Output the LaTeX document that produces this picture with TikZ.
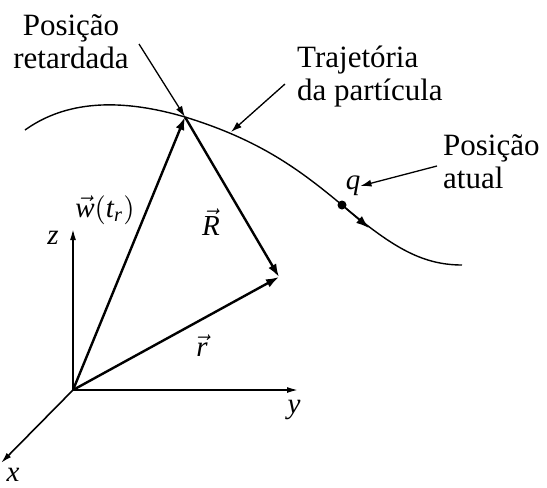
\documentclass[tikz,border=0pt]{standalone}
\usepackage{graphicx}
\usepackage{fontspec}
\setmainfont{Liberation Serif}
\usetikzlibrary{arrows.meta, positioning}
\newcommand{\grande}[1]{\scalebox{2.9}{$#1$}}

\begin{document}
\begin{tikzpicture}[
  x=1pt, y=-1pt,
  vetor/.style={->, line width=2.4pt, >={Latex[length=13pt,width=9pt]}},
  eixo/.style={->, line width=1.6pt, >={Latex[length=11pt,width=6pt]}},
  seta/.style={->, line width=1.3pt, >={Latex[length=11pt,width=7pt]}},
  rotulo/.style={font=\fontsize{31}{33}\selectfont, inner sep=0pt},
  letra/.style={inner sep=0pt}
]
  \useasboundingbox (0,0) rectangle (547,488);

  % pontos principais
  \coordinate (o)  at (73,390);
  \coordinate (pr) at (185,117);
  \coordinate (pf) at (279,277);
  \coordinate (ez) at (73,229);
  \coordinate (ey) at (298,390);
  \coordinate (ex) at (1,463);
  \coordinate (vq) at (369,228);
  \coordinate (pt) at (231,132);

  % trajetoria
  \draw[line width=1.4pt] (25,130) .. controls (60,105) and (110,95) .. (pr)
    .. controls (260,140) and (300,170) .. (342,205)
    .. controls (390,245) and (420,265) .. (462,265);
  \node[circle,fill,inner sep=0pt,minimum size=9pt] (q) at (342,205) {};

  % eixos
  \draw[eixo] (o)--(ez);
  \draw[eixo] (o)--(ey);
  \draw[eixo] (o)--(ex);
  \node[letra] (lz) at (53,238) {\grande{\mathit{z}}};
  \node[letra] (ly) at (294,410) {\grande{\mathit{y}}};
  \node[letra] (lx) at (13,475) {\grande{\mathit{x}}};

  % vetores
  \draw[vetor] (o)--(pr);
  \draw[vetor] (pr)--(pf);
  \draw[vetor] (o)--(pf);
  \draw[vetor, line width=1.6pt] (q)--(vq);
  \node[letra] (lw) at (105,210) {\grande{\vec{\mathit{w}}(\mathit{t}_{\mathit{r}})}};
  \node[letra] (lR) at (211,222) {\grande{\vec{\mathit{R}}}};
  \node[letra] (lr) at (202,346) {\grande{\vec{\mathit{r}}}};
  \node[letra] (lq) at (353,186) {\grande{\mathit{q}}};

  % legendas
  \node[rotulo,align=center] (ret) at (71,42) {Posição\\retardada};
  \node[rotulo,align=left,anchor=west] (traj) at (297,77) {Trajetória\\da partícula};
  \node[rotulo,align=left,anchor=west] (atual) at (443,162) {Posição\\atual};

  \coordinate (sret)   at (139,44);
  \coordinate (straj)  at (285,84);
  \coordinate (satual) at (437,166);
  \draw[seta] (sret)--(pr);
  \draw[seta] (straj)--(pt);
  \draw[seta] (satual)--(lq.east);
\end{tikzpicture}
\end{document}
